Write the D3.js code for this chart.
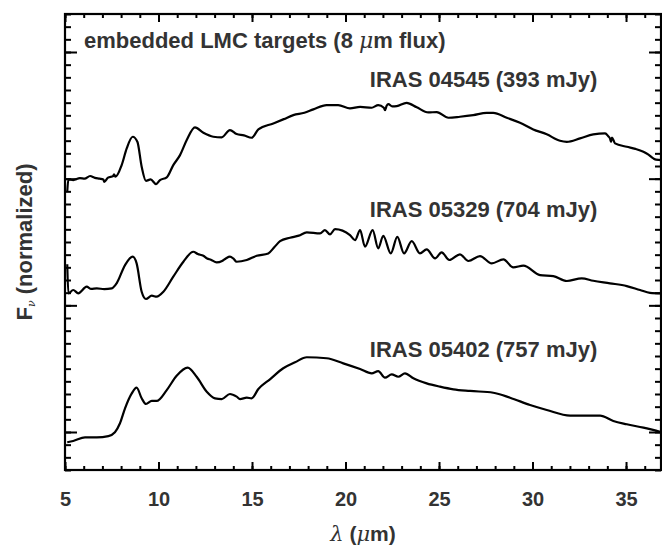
<!DOCTYPE html>
<html>
<head>
<meta charset="utf-8">
<script src="https://cdn.jsdelivr.net/npm/d3@7"></script>
<style>
	body { margin: 0; background: #fff; }
	svg { display: block; }
	text { font-family: "Liberation Sans", Arial, Helvetica, sans-serif; font-weight: bold; fill: #333; }
</style>
</head>
<body>
<div id="chart"></div>
<script>
// spectra: [wavelength (um), normalized flux + offset]
const iras04545 = [
	[5.12, 1.897], [5.18, 1.994], [5.44, 1.989], [5.8, 2.004], [6.05, 2.0], [6.34, 2.021],
	[6.6, 2.006], [6.85, 2.0], [7.05, 1.994], [7.1, 1.975], [7.3, 2.008], [7.58, 2.021],
	[7.62, 2.035], [7.7, 2.015], [8.03, 2.107], [8.3, 2.239], [8.62, 2.331], [8.87, 2.291],
	[9.1, 2.094], [9.33, 1.983], [9.58, 1.994], [9.87, 1.957], [10.08, 1.989], [10.44, 2.01],
	[10.79, 2.107], [11.15, 2.186], [11.51, 2.305], [11.95, 2.405], [12.4, 2.362], [12.93, 2.331],
	[13.38, 2.326], [13.82, 2.384], [14.18, 2.352], [14.57, 2.342], [14.98, 2.323], [15.34, 2.389],
	[16.14, 2.436], [16.7, 2.47], [17.21, 2.502], [17.8, 2.52], [18.28, 2.547], [18.99, 2.581],
	[19.61, 2.581], [20.24, 2.555], [20.78, 2.567], [21.4, 2.56], [21.75, 2.581], [22.05, 2.56],
	[22.11, 2.541], [22.2, 2.575], [22.29, 2.589], [22.5, 2.57], [22.74, 2.573], [23.27, 2.599],
	[23.81, 2.563], [24.43, 2.523], [24.88, 2.526], [25.5, 2.481], [26.12, 2.489], [26.83, 2.502],
	[27.55, 2.52], [27.9, 2.52], [28.62, 2.481], [29.33, 2.441], [30.04, 2.389], [30.76, 2.35],
	[31.47, 2.299], [31.83, 2.291], [32.54, 2.318], [33.25, 2.35], [33.88, 2.358], [34.05, 2.335],
	[34.14, 2.318], [34.2, 2.29], [34.25, 2.325], [34.41, 2.279], [35.04, 2.252], [35.5, 2.235],
	[35.93, 2.212], [36.2, 2.19], [36.46, 2.16], [36.6, 2.15], [36.91, 2.147]
];

const iras05329 = [
	[5.12, 1.324], [5.18, 1.095], [5.44, 1.121], [5.71, 1.095], [6.16, 1.147], [6.4, 1.13],
	[6.7, 1.134], [7.1, 1.128], [7.5, 1.134], [7.76, 1.174], [8.21, 1.318], [8.62, 1.384],
	[8.83, 1.331], [9.1, 1.107], [9.33, 1.05], [9.64, 1.076], [9.9, 1.068], [10.26, 1.107],
	[10.79, 1.226], [11.33, 1.344], [11.86, 1.423], [12.1, 1.405], [12.4, 1.391], [12.6, 1.37],
	[12.8, 1.36], [13.11, 1.339], [13.4, 1.35], [13.6, 1.37], [13.82, 1.384], [14.0, 1.37],
	[14.18, 1.344], [14.72, 1.358], [15.25, 1.391], [15.87, 1.41], [16.2, 1.46], [16.5, 1.507],
	[17.03, 1.534], [17.5, 1.55], [17.93, 1.576], [18.64, 1.568], [18.9, 1.594], [19.17, 1.56],
	[19.44, 1.602], [20.24, 1.555], [20.51, 1.515], [20.78, 1.594], [21.04, 1.463], [21.45, 1.594],
	[21.75, 1.45], [22.02, 1.549], [22.42, 1.41], [22.77, 1.541], [23.13, 1.41], [23.54, 1.507],
	[23.98, 1.41], [24.34, 1.442], [24.79, 1.371], [25.14, 1.418], [25.55, 1.358], [26.12, 1.403],
	[26.57, 1.35], [27.19, 1.389], [27.82, 1.331], [28.44, 1.363], [28.97, 1.3], [29.51, 1.313],
	[30.4, 1.239], [31.11, 1.231], [31.83, 1.192], [32.63, 1.213], [33.25, 1.194], [34.14, 1.174],
	[35.04, 1.152], [35.75, 1.121], [36.28, 1.099], [36.91, 1.095]
];

const iras05402 = [
	[5.12, -0.081], [5.44, -0.071], [6.07, -0.042], [6.7, -0.042], [7.32, -0.032], [7.67, -0.002],
	[7.94, 0.069], [8.21, 0.187], [8.57, 0.305], [8.83, 0.35], [9.1, 0.266], [9.33, 0.221],
	[9.64, 0.245], [9.9, 0.245], [10.44, 0.331], [10.97, 0.444], [11.56, 0.508], [12.04, 0.436],
	[12.58, 0.318], [13.02, 0.266], [13.38, 0.26], [13.82, 0.3], [14.18, 0.279], [14.36, 0.26],
	[14.72, 0.271], [14.98, 0.266], [15.34, 0.339], [15.96, 0.416], [16.67, 0.503], [17.3, 0.55],
	[17.93, 0.59], [18.99, 0.582], [19.88, 0.542], [20.78, 0.497], [21.4, 0.463], [21.75, 0.481],
	[22.11, 0.429], [22.47, 0.455], [22.82, 0.436], [23.18, 0.463], [23.63, 0.424], [24.34, 0.384],
	[25.05, 0.358], [25.77, 0.337], [26.66, 0.324], [27.9, 0.31], [28.8, 0.271], [29.87, 0.213],
	[30.76, 0.174], [32.01, 0.129], [33.07, 0.129], [33.61, 0.129], [34.32, 0.087], [35.04, 0.061],
	[35.93, 0.034], [36.91, -0.002]
];

const spectra = [iras04545, iras05329, iras05402];
const sourceLabels = ["IRAS 04545 (393 mJy)", "IRAS 05329 (704 mJy)", "IRAS 05402 (757 mJy)"];
const labelLevels = [2.72, 1.70, 0.59];
const xTicks = [5, 10, 15, 20, 25, 30, 35];

const width = 662;
const height = 546;
const margin = { top: 14, right: 1, bottom: 76, left: 65 };
const innerW = width - margin.left - margin.right;
const innerH = height - margin.top - margin.bottom;

const x = d3.scaleLinear().domain([5, 36.87]).range([0, innerW]);
const y = d3.scaleLinear().domain([-0.3, 3.3]).range([innerH, 0]);

const svg = d3
	.select("#chart")
	.append("svg")
	.attr("width", width)
	.attr("height", height);

const g = svg.append("g").attr("transform", `translate(${margin.left},${margin.top})`);

const minorX = d3.range(5, 37, 1);
const minorY = d3.range(-3, 34, 1).map((d) => d / 10);
const majorY = [0, 1, 2, 3];

// tick marks on all four sides, pointing inward
function ticks(axis, values, size) {
	return axis.tickValues(values).tickSizeInner(-size).tickSizeOuter(0).tickFormat("");
}

g.append("g").attr("transform", `translate(0,${innerH})`).call(ticks(d3.axisBottom(x), minorX, 4));
g.append("g").attr("transform", `translate(0,${innerH})`)
	.call(d3.axisBottom(x).tickValues(xTicks).tickSizeInner(-8).tickSizeOuter(0).tickPadding(22));
g.append("g").call(ticks(d3.axisTop(x), minorX, 4));
g.append("g").call(ticks(d3.axisTop(x), xTicks, 8));
g.append("g").call(ticks(d3.axisLeft(y), minorY, 6));
g.append("g").call(ticks(d3.axisLeft(y), majorY, 12));
g.append("g").attr("transform", `translate(${innerW},0)`).call(ticks(d3.axisRight(y), minorY, 6));
g.append("g").attr("transform", `translate(${innerW},0)`).call(ticks(d3.axisRight(y), majorY, 12));

g.selectAll(".domain").remove();
g.selectAll(".tick line").attr("stroke", "#000").attr("stroke-width", 2);
g.selectAll(".tick text")
	.attr("fill", "#333")
	.style("font-size", "20px")
	.style("font-family", "'Liberation Sans', Arial, sans-serif")
	.style("font-weight", "bold");

// spectra
const line = d3
	.line()
	.x((d) => x(d[0]))
	.y((d) => y(d[1]))
	.curve(d3.curveMonotoneX);

g.append("g")
	.selectAll("path")
	.data(spectra)
	.join("path")
	.attr("d", line)
	.attr("fill", "none")
	.attr("stroke", "#000")
	.attr("stroke-width", 2.2)
	.attr("stroke-linejoin", "round");

// frame
g.append("rect")
	.attr("width", innerW)
	.attr("height", innerH)
	.attr("fill", "none")
	.attr("stroke", "#000")
	.attr("stroke-width", 2.2);

// labels
g.append("g")
	.selectAll("text")
	.data(sourceLabels)
	.join("text")
	.attr("x", x(21.3))
	.attr("y", (d, i) => y(labelLevels[i]))
	.style("font-size", "22px")
	.text((d) => d);

const title = g.append("text").attr("x", 19).attr("y", 34).style("font-size", "22px");
title.append("tspan").text("embedded LMC targets (8 ");
title.append("tspan").text("\u03bc").style("font-family", "'DejaVu Serif', serif")
	.style("font-style", "italic").style("font-weight", "normal");
title.append("tspan").text("m flux)");

const xLabel = g.append("text")
	.attr("x", innerW / 2)
	.attr("y", innerH + 71)
	.attr("text-anchor", "middle")
	.style("font-size", "21px");
xLabel.append("tspan").text("\u03bb").style("font-family", "'DejaVu Serif', serif")
	.style("font-style", "italic").style("font-weight", "normal");
xLabel.append("tspan").text(" (");
xLabel.append("tspan").text("\u03bc").style("font-family", "'DejaVu Serif', serif")
	.style("font-style", "italic").style("font-weight", "normal");
xLabel.append("tspan").text("m)");

const yLabel = svg.append("text")
	.attr("transform", `translate(32,${margin.top + innerH / 2}) rotate(-90)`)
	.attr("text-anchor", "middle")
	.style("font-size", "22px");
yLabel.append("tspan").text("F");
yLabel.append("tspan").text("\u03bd").attr("dy", 3).style("font-size", "11px")
	.style("font-family", "'DejaVu Serif', serif").style("font-style", "italic")
	.style("font-weight", "normal");
yLabel.append("tspan").text(" (normalized)").attr("dy", -3);
</script>
</body>
</html>
